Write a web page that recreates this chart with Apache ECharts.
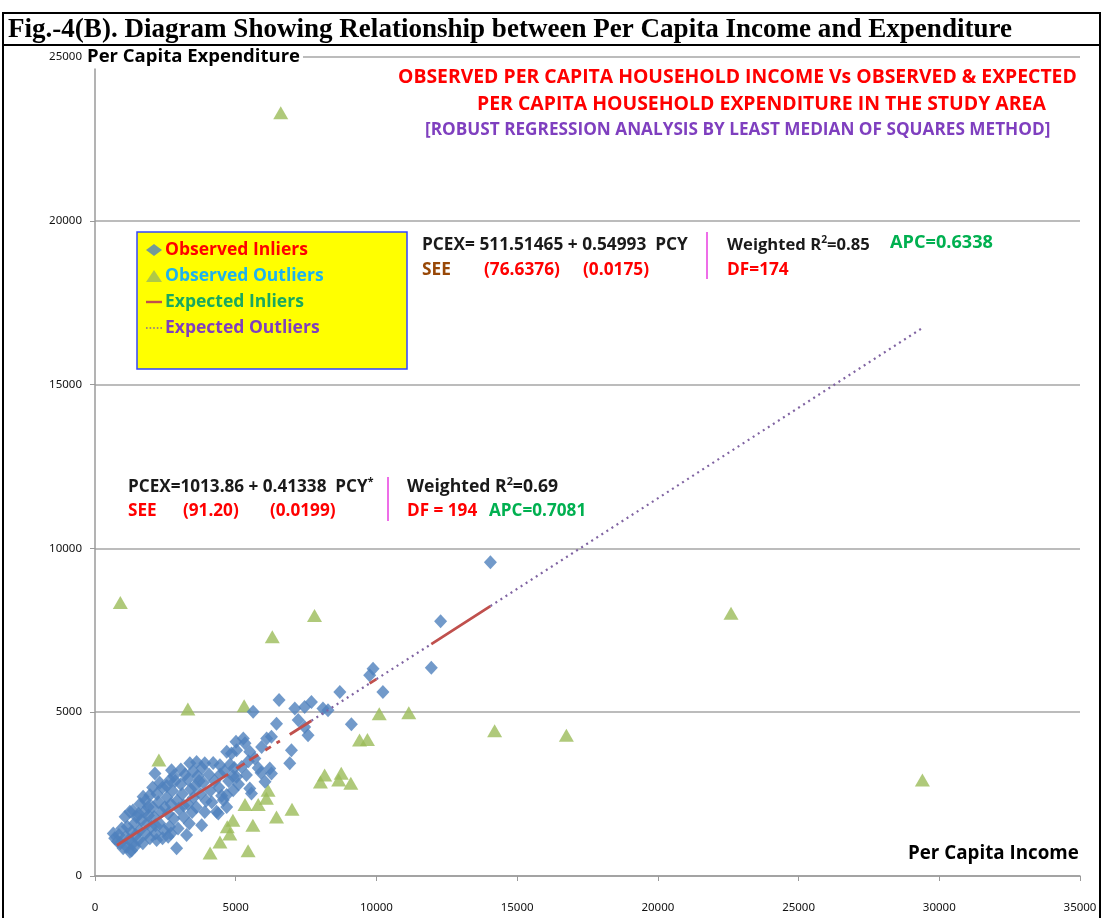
<!DOCTYPE html>
<html>
<head>
<meta charset="utf-8">
<script src="https://cdn.jsdelivr.net/npm/echarts@6/dist/echarts.min.js"></script>
<style>
html,body{margin:0;padding:0;background:#fff;}
#c{width:1104px;height:918px;}
</style>
</head>
<body>
<div id="c"></div>
<script>
// ---------- DATA ----------
const xTicks = [0, 5000, 10000, 15000, 20000, 25000, 30000, 35000];
const yTicks = [0, 5000, 10000, 15000, 20000, 25000];

const observedInliers = [
  [650,1300],[800,1050],[900,1000],[850,1250],[950,1450],[1000,850],[700,1150],
  [1070,1810],[1125,890],[1240,740],[1240,1960],[1100,1200],[1200,1100],[1300,1350],[1350,1000],[1400,1600],[1450,1250],[1150,1500],[1300,780],[1420,900],[1480,1800],[1350,2000],
  [1550,1100],[1600,1400],[1650,1700],[1710,2420],[1890,2110],[1950,2470],[1700,1000],[1800,1300],[1850,1600],[1900,1850],[1750,1950],[1600,2200],[1950,1150],[2000,1500],[1550,1900],[1800,2300],
  [2130,3130],[2050,2100],[2100,1800],[2150,1300],[2190,1100],[2200,2500],[2250,2250],[2300,1600],[2350,1950],[2400,2700],[2450,1400],[2050,2700],[2300,2850],[2400,1150],[2480,2100],[2150,1550],
  [2660,2930],[2720,3230],[2550,2400],[2600,1900],[2650,1500],[2700,2200],[2750,2600],[2800,1750],[2850,2900],[2900,845],[2920,2300],[2950,1450],[2550,2750],[2800,3050],[2980,2050],[2600,1200],[2700,1300],
  [3050,2800],[3100,2500],[3150,1800],[3200,3100],[3255,1250],[3300,2200],[3370,3440],[3400,2650],[3450,1950],[3050,3250],[3150,2150],[3300,2950],[3500,2400],[3350,1600],[3480,3200],
  [3610,3480],[3550,2750],[3600,2100],[3650,3050],[3790,1550],[3750,2500],[3800,3300],[3850,2850],[3900,3440],[3950,2300],[3700,2900],[3900,1950],
  [4050,3100],[4100,2600],[4200,3450],[4250,2900],[4320,1960],[4380,1910],[4400,2700],[4440,3380],[4150,2250],[4450,3100],[4500,2450],
  [4560,2320],[4680,2470],[4680,3790],[4910,2620],[4850,3740],[4600,3200],[4750,2900],[4800,3400],[4900,3050],[4680,2110],[4950,3300],
  [5010,4100],[5030,3840],[5030,3030],[5210,3330],[5330,4050],[5380,3080],[5500,3790],[5500,2670],[5270,4200],[5100,2800],[5450,3500],[5560,2520],
  [5620,5010],[5680,3590],[5920,3940],[6040,2880],[5800,3300],[5900,3150],
  [6210,3280],[6270,3130],[6100,4200],[6270,4250],[6450,4650],[6540,5370],[6920,3440],[6980,3840],
  [7100,5110],[7220,4760],[7450,5160],[7450,4550],[7570,4300],[7690,5310],[8100,5110],[8280,5060],[8700,5620],[9110,4630],
  [9760,6130],[9880,6330],[10230,5620],[11950,6360],[12280,7780],[14050,9580]
];

const observedOutliers = [
  [900,8350],[6600,23300],[6300,7300],[7800,7950],[3300,5100],[5300,5200],[10100,4950],[11150,4980],
  [14200,4430],[16750,4300],[22600,8020],[29400,2930],[2270,3540],[9400,4150],[9680,4170],
  [8160,3080],[8010,2870],[8750,3140],[8660,2930],[9090,2830],[6150,2620],[6090,2370],[5800,2180],
  [5330,2180],[7000,2040],[6450,1800],[4900,1700],[5610,1550],[4700,1500],[4790,1280],[4440,1040],
  [4090,700],[5440,770]
];

// expected (fitted) values; '-' marks a break in the line
const expectedInliers = [
  [780,940],[4730,3110],[4880,'-'],[5030,3280],[5320,3440],[5400,'-'],[5480,3530],[5800,3700],[5920,'-'],
  [6050,3840],[6250,3950],[6350,'-'],[6450,4060],[6570,4120],[6750,'-'],[6920,4320],[7690,4740],[8700,'-'],
  [9760,5880],[10000,6010],[11000,'-'],[11950,7080],[14050,8240]
];
const expectedOutliers = [
  [7690,4740],[9760,5880],[9880,'-'],[10000,6010],[11950,7080],[13000,'-'],[14050,8240],[29350,16700]
];

// ---------- TEXT HELPERS ----------
const cv = document.createElement('canvas').getContext('2d');
const SANS = '"Open Sans", "Noto Sans", sans-serif';
function fitSize(text, weight, family, width) {
  cv.font = weight + ' 100px ' + family;
  return 100 * width / cv.measureText(text).width;
}
function T(x0, x1, yc, text, color, weight, family, fixedSize) {
  family = family || SANS;
  weight = weight || 'bold';
  const size = fixedSize || fitSize(text, weight, family, x1 - x0);
  return {
    type: 'text', x: x0, y: yc, z: 20,
    style: { text: text, fill: color, font: weight + ' ' + size.toFixed(2) + 'px ' + family, verticalAlign: 'middle', align: 'left' }
  };
}
function RT(x0, yc, parts, size) {
  let s = '';
  const rich = {};
  parts.forEach((p, i) => {
    if (p[2]) {
      rich['k' + i] = { fontSize: size * 0.62, fontWeight: 'bold', fontFamily: SANS, fill: p[1], padding: [0, 0, size * 0.55, 0] };
    } else {
      rich['k' + i] = { fontSize: size, fontWeight: 'bold', fontFamily: SANS, fill: p[1] };
    }
    s += '{k' + i + '|' + p[0] + '}';
  });
  return { type: 'text', x: x0, y: yc, z: 20, style: { text: s, rich: rich, verticalAlign: 'middle', align: 'left' } };
}
function VL(x, y0, y1, color) {
  return { type: 'line', z: 20, shape: { x1: x, y1: y0, x2: x, y2: y1 }, style: { stroke: color, lineWidth: 1.5 } };
}

const RED = '#FF0000', BLACK = '#1a1a1a', GREEN_T = '#00B050', PURPLE_T = '#7F3FBF', BROWN = '#984807', MAG = '#E83CE0';
const S1 = fitSize('PCEX= 511.51465 + 0.54993  PCY', 'bold', SANS, 266);
const S2 = fitSize('PCEX=1013.86 + 0.41338  PCY', 'bold', SANS, 240);
const SR1 = fitSize('Weighted R=0.85', 'bold', SANS, 137);
const SR2 = fitSize('Weighted R=0.69', 'bold', SANS, 145);

const yTitle = T(87, 300, 57, 'Per Capita Expenditure', '#000', 'bold');
yTitle.style.backgroundColor = '#fff';
yTitle.style.padding = [2, 3, 2, 2];
yTitle.x = 85;

const graphics = [
  { type: 'rect', z: 30, shape: { x: 3, y: 13, width: 1097, height: 920 }, style: { fill: null, stroke: '#000', lineWidth: 2 } },
  { type: 'line', z: 30, shape: { x1: 3, y1: 45, x2: 1100, y2: 45 }, style: { stroke: '#000', lineWidth: 2 } },
  T(8, 1012, 30, 'Fig.-4(B). Diagram Showing Relationship between Per Capita Income and Expenditure', '#000', 'bold', '"Liberation Serif", "DejaVu Serif", serif'),
  yTitle,
  T(908, 1079, 854, 'Per Capita Income', '#000', 'bold'),
  T(398, 1077, 77, 'OBSERVED PER CAPITA HOUSEHOLD INCOME Vs OBSERVED & EXPECTED', RED, 'bold'),
  T(477, 1046, 104, 'PER CAPITA HOUSEHOLD EXPENDITURE IN THE STUDY AREA', RED, 'bold'),
  T(425, 1051, 130, '[ROBUST REGRESSION ANALYSIS BY LEAST MEDIAN OF SQUARES METHOD]', PURPLE_T, 'bold'),
  // upper regression annotation
  T(422, 688, 245, 'PCEX= 511.51465 + 0.54993  PCY', BLACK, 'bold'),
  T(422, 0, 270, 'SEE', BROWN, 'bold', null, S1),
  T(484, 0, 270, '(76.6376)', RED, 'bold', null, S1),
  T(583, 0, 270, '(0.0175)', RED, 'bold', null, S1),
  VL(707, 232, 279, MAG),
  RT(727, 245, [['Weighted R', BLACK], ['2', BLACK, true], ['=0.85', BLACK]], SR1),
  T(890, 993, 243, 'APC=0.6338', GREEN_T, 'bold'),
  T(727, 0, 270, 'DF=174', RED, 'bold', null, S1),
  // lower regression annotation
  RT(128, 487, [['PCEX=1013.86 + 0.41338  PCY', BLACK], ['*', BLACK, true]], S2),
  T(128, 0, 511, 'SEE', RED, 'bold', null, S2),
  T(183, 0, 511, '(91.20)', RED, 'bold', null, S2),
  T(270, 0, 511, '(0.0199)', RED, 'bold', null, S2),
  VL(388, 477, 521, MAG),
  RT(407, 487, [['Weighted R', BLACK], ['2', BLACK, true], ['=0.69', BLACK]], SR2),
  T(407, 0, 511, 'DF = 194', RED, 'bold', null, S2),
  T(489, 0, 511, 'APC=0.7081', GREEN_T, 'bold', null, S2),
  // legend box
  { type: 'rect', z: 3, shape: { x: 137, y: 232, width: 270, height: 137 }, style: { fill: '#FFFF00', stroke: '#3344FF', lineWidth: 1.5 } }
];

const chart = echarts.init(document.getElementById('c'), null, { renderer: 'canvas' });
const axisLabelStyle = { color: '#111', fontSize: 11.5, fontFamily: '"Noto Sans", "DejaVu Sans", sans-serif', formatter: v => String(v) };
chart.setOption({
  backgroundColor: '#fff',
  animation: false,
  grid: { left: 95, right: 24, top: 57, bottom: 42 },
  xAxis: {
    type: 'value', min: xTicks[0], max: xTicks[xTicks.length - 1], interval: xTicks[1] - xTicks[0],
    axisLine: { show: true, lineStyle: { color: '#9a9a9a', width: 1.5 } },
    axisTick: { show: true, length: 5, lineStyle: { color: '#9a9a9a' } },
    axisLabel: Object.assign({ margin: 26 }, axisLabelStyle),
    splitLine: { show: false }
  },
  yAxis: {
    type: 'value', min: yTicks[0], max: yTicks[yTicks.length - 1], interval: yTicks[1] - yTicks[0],
    axisLine: { show: true, lineStyle: { color: '#9a9a9a', width: 1.5 } },
    axisTick: { show: true, length: 5, lineStyle: { color: '#9a9a9a' } },
    axisLabel: Object.assign({ margin: 13 }, axisLabelStyle),
    splitLine: { show: true, lineStyle: { color: '#a6a6a6', width: 1.5 } }
  },
  legend: {
    orient: 'vertical', left: 141, top: 236, z: 10,
    itemWidth: 16, itemHeight: 12, itemGap: 8,
    textStyle: { fontSize: 17.5, fontWeight: 'bold', fontFamily: SANS, padding: [0, 0, 0, -2] },
    data: [
      { name: 'Observed Inliers', icon: 'diamond', textStyle: { color: '#FF0000' } },
      { name: 'Observed Outliers', icon: 'triangle', textStyle: { color: '#1EB2EE' } },
      { name: 'Expected Inliers', icon: 'path://M0,0h20v3h-20z', textStyle: { color: '#19A860' } },
      { name: 'Expected Outliers', icon: 'path://M0,0h2v2h-2zM4.5,0h2v2h-2zM9,0h2v2h-2zM13.5,0h2v2h-2zM18,0h2v2h-2z', textStyle: { color: '#7F3FBF' } }
    ]
  },
  graphic: graphics,
  series: [
    {
      name: 'Observed Outliers', type: 'scatter', data: observedOutliers,
      symbol: 'triangle', symbolSize: [15, 13], itemStyle: { color: '#9BBB59' }, z: 3
    },
    {
      name: 'Observed Inliers', type: 'scatter', data: observedInliers,
      symbol: 'diamond', symbolSize: [13, 14], itemStyle: { color: '#4F81BD' }, z: 4
    },
    {
      name: 'Expected Inliers', type: 'line', data: expectedInliers, symbol: 'none', connectNulls: false,
      lineStyle: { color: '#C0504D', width: 2.8 }, itemStyle: { color: '#C0504D' }, z: 5
    },
    {
      name: 'Expected Outliers', type: 'line', data: expectedOutliers, symbol: 'none', connectNulls: false,
      lineStyle: { color: '#8064A2', width: 2.2, type: [2, 4] }, itemStyle: { color: '#8064A2' }, z: 5
    }
  ]
});
</script>
</body>
</html>
